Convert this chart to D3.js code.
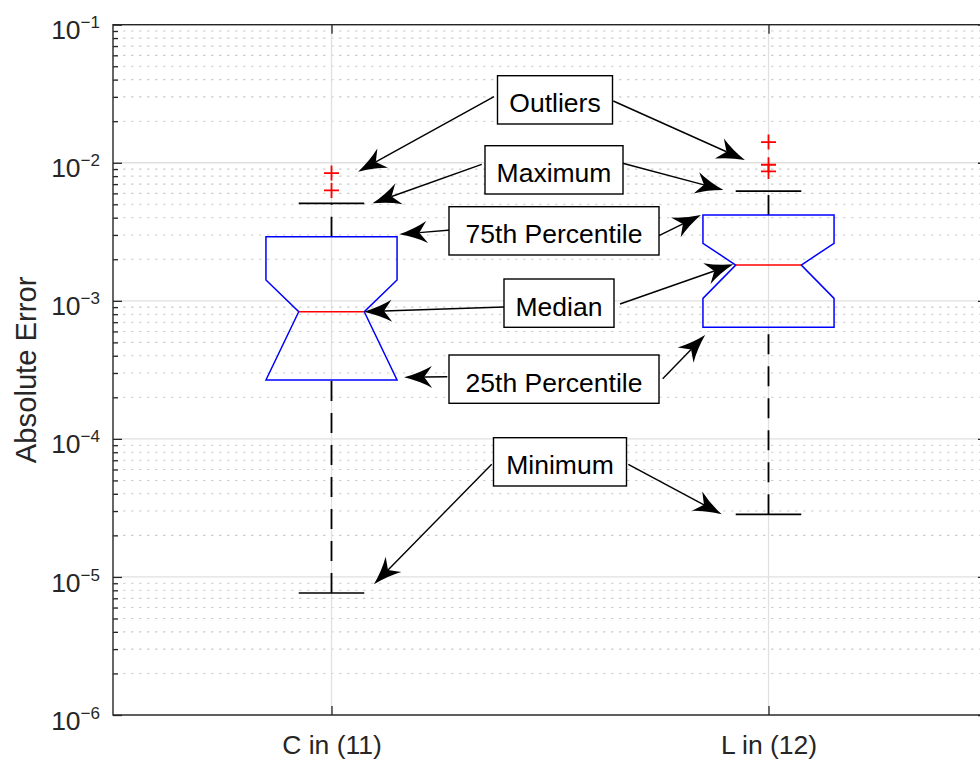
<!DOCTYPE html>
<html>
<head>
<meta charset="utf-8">
<script src="https://cdn.jsdelivr.net/npm/d3@7"></script>
<style>
  html, body { margin: 0; padding: 0; background: #ffffff; }
  svg { display: block; font-family: "Liberation Sans", Arial, Helvetica, sans-serif; }
</style>
</head>
<body>
<script>
// ---- data: notched box plot statistics per group ----
const categories  = ["C in (11)", "L in (12)"];
const q1          = [2.67e-4, 6.43e-4];
const median      = [8.34e-4, 1.817e-3];
const q3          = [2.913e-3, 4.18e-3];
const notchLow    = [2.67e-4, 1.042e-3];
const notchHigh   = [1.416e-3, 2.61e-3];
const whiskerLow  = [7.65e-6, 2.84e-5];
const whiskerHigh = [5.085e-3, 6.24e-3];
const outliers    = [[8.42e-3, 6.30e-3], [1.413e-2, 9.67e-3, 8.65e-3]];
const yTickExponents = [-6, -5, -4, -3, -2, -1];
const yLabel = "Absolute Error";

// ---- callouts: label, arrow tips in data units (group position, value) ----
const noteLabels = ["Outliers", "Maximum", "75th Percentile", "Median", "25th Percentile", "Minimum"];
const noteTips = [
  [[1.061, 8.61e-3], [1.946, 1.047e-2]],
  [[1.094, 5.085e-3], [1.897, 6.35e-3]],
  [[1.155, 3.03e-3], [1.8455, 4.18e-3]],
  [[1.074, 8.34e-4], [1.9195, 1.838e-3]],
  [[1.166, 2.79e-4], [1.855, 5.655e-4]],
  [[1.097, 8.84e-6], [1.893, 2.84e-5]]
];
// callout box layout (pixels): centre x, top y, width; and arrow tails
const noteBoxes = [
  {cx: 555, y: 75.7, w: 115},
  {cx: 554, y: 145.7, w: 138},
  {cx: 554, y: 206.7, w: 210},
  {cx: 559, y: 279, w: 110},
  {cx: 554, y: 355, w: 210},
  {cx: 560, y: 437.7, w: 133}
];
const noteTails = [
  [[494, 96.7], [613.3, 101]],
  [[481.7, 164.3], [622.7, 163.3]],
  [[450.7, 230], [659, 235.7]],
  [[504, 307], [620, 304]],
  [[447.3, 376.7], [662.7, 378.7]],
  [[491.7, 464.3], [628.3, 464.3]]
];

// ---- layout ----
const W = 980, H = 760;
const plot = {left: 113, top: 24.7, right: 987, bottom: 715};
const axisColor = "#262626";

const svg = d3.select("body").append("svg")
  .attr("width", W).attr("height", H);

const x = d3.scaleLinear().domain([0.5, 2.5]).range([plot.left, plot.right]);
const y = d3.scaleLog().domain([1e-6, 1e-1]).range([plot.bottom, plot.top]);

const majorVals = yTickExponents.map(e => Math.pow(10, e));
const minorVals = [];
yTickExponents.slice(0, -1).forEach(e => {
  for (let k = 2; k <= 9; k++) minorVals.push(k * Math.pow(10, e));
});

// ---- grid ----
const grid = svg.append("g");
grid.selectAll("line.minor").data(minorVals).join("line")
  .attr("x1", plot.left).attr("x2", plot.right)
  .attr("y1", d => y(d)).attr("y2", d => y(d))
  .attr("stroke", "#cdcdcd").attr("stroke-width", 1.1)
  .attr("stroke-dasharray", "2.5,5.5").attr("stroke-dashoffset", -2);
grid.selectAll("line.major").data(majorVals).join("line")
  .attr("x1", plot.left).attr("x2", plot.right)
  .attr("y1", d => y(d)).attr("y2", d => y(d))
  .attr("stroke", "#e0e0e0").attr("stroke-width", 1.3);
grid.selectAll("line.vmajor").data(categories).join("line")
  .attr("x1", (d, i) => x(i + 1)).attr("x2", (d, i) => x(i + 1))
  .attr("y1", plot.top).attr("y2", plot.bottom)
  .attr("stroke", "#e0e0e0").attr("stroke-width", 1.3);

// ---- boxes ----
const boxHalf = 0.15, notchHalf = 0.075, capHalf = 0.075;
const data = svg.append("g");
categories.forEach((c, i) => {
  const p = i + 1;
  const xl = x(p - boxHalf), xr = x(p + boxHalf);
  const nl = x(p - notchHalf), nr = x(p + notchHalf);
  const yNlo = Math.min(y(notchLow[i]), y(q1[i]));
  const yNhi = Math.max(y(notchHigh[i]), y(q3[i]));

  // whiskers (dashed, drawn bottom to top)
  data.append("line")
    .attr("x1", x(p)).attr("x2", x(p))
    .attr("y1", y(whiskerLow[i])).attr("y2", y(q1[i]))
    .attr("stroke", "#000").attr("stroke-width", 1.8)
    .attr("stroke-dasharray", "20,12");
  data.append("line")
    .attr("x1", x(p)).attr("x2", x(p))
    .attr("y1", y(q3[i])).attr("y2", y(whiskerHigh[i]))
    .attr("stroke", "#000").attr("stroke-width", 1.8)
    .attr("stroke-dasharray", "20,12");
  // caps
  [whiskerLow[i], whiskerHigh[i]].forEach(v => {
    data.append("line")
      .attr("x1", x(p - capHalf)).attr("x2", x(p + capHalf))
      .attr("y1", y(v)).attr("y2", y(v))
      .attr("stroke", "#000").attr("stroke-width", 1.7);
  });

  // notched box outline
  const pts = [
    [xl, y(q1[i])], [xl, yNlo], [nl, y(median[i])], [xl, yNhi], [xl, y(q3[i])],
    [xr, y(q3[i])], [xr, yNhi], [nr, y(median[i])], [xr, yNlo], [xr, y(q1[i])]
  ];
  data.append("path")
    .attr("d", d3.line()(pts) + "Z")
    .attr("fill", "none").attr("stroke", "#0000ff").attr("stroke-width", 1.5)
    .attr("stroke-linejoin", "miter");
  // median
  data.append("line")
    .attr("x1", nl).attr("x2", nr)
    .attr("y1", y(median[i])).attr("y2", y(median[i]))
    .attr("stroke", "#ff0000").attr("stroke-width", 1.5);
  // outliers
  outliers[i].forEach(v => {
    const cx = x(p), cy = y(v), s = 7.5;
    data.append("path")
      .attr("d", `M${cx - s},${cy}H${cx + s}M${cx},${cy - s}V${cy + s}`)
      .attr("stroke", "#ff0000").attr("stroke-width", 1.8).attr("fill", "none");
  });
});

// ---- axes ----
const axes = svg.append("g").attr("color", axisColor);
axes.append("g").attr("transform", `translate(${plot.left},0)`)
  .call(d3.axisLeft(y).tickValues(minorVals).tickSize(-5).tickFormat(""))
  .call(g => g.select(".domain").remove());
axes.append("g").attr("transform", `translate(${plot.left},0)`)
  .call(d3.axisLeft(y).tickValues(majorVals).tickSize(-9).tickFormat(""))
  .call(g => g.select(".domain").remove());
axes.append("g").attr("transform", `translate(${plot.right},0)`)
  .call(d3.axisRight(y).tickValues(minorVals).tickSize(-5).tickFormat(""))
  .call(g => g.select(".domain").remove());
axes.append("g").attr("transform", `translate(${plot.right},0)`)
  .call(d3.axisRight(y).tickValues(majorVals).tickSize(-9).tickFormat(""))
  .call(g => g.select(".domain").remove());
axes.append("g").attr("transform", `translate(0,${plot.top})`)
  .call(d3.axisTop(x).tickValues([1, 2]).tickSize(-9).tickFormat(""))
  .call(g => g.select(".domain").remove());
const xAxis = axes.append("g").attr("transform", `translate(0,${plot.bottom})`)
  .call(d3.axisBottom(x).tickValues([1, 2]).tickSize(-9).tickPadding(20)
    .tickFormat(d => categories[d - 1]))
  .call(g => g.select(".domain").remove());
xAxis.selectAll("text")
  .attr("font-size", 26.5).attr("fill", axisColor)
  .attr("font-family", "Liberation Sans, Arial, sans-serif");
axes.selectAll(".tick line").attr("stroke-width", 1.3);

// frame
axes.append("rect")
  .attr("x", plot.left).attr("y", plot.top)
  .attr("width", plot.right - plot.left).attr("height", plot.bottom - plot.top)
  .attr("fill", "none").attr("stroke", axisColor).attr("stroke-width", 1.4);

// y tick labels: 10 with superscript exponent
const yLabels = axes.append("g");
yTickExponents.forEach(e => {
  const t = yLabels.append("text")
    .attr("x", plot.left - 13).attr("y", y(Math.pow(10, e)) + 14.6)
    .attr("text-anchor", "end").attr("fill", axisColor);
  t.append("tspan").attr("font-size", 26.5).text("10");
  t.append("tspan").attr("font-size", 17).attr("dy", -11)
    .text(String(e).replace("-", "\u2212"));
});

// y axis title
svg.append("text")
  .attr("transform", `translate(36,${(plot.top + plot.bottom) / 2}) rotate(-90)`)
  .attr("text-anchor", "middle").attr("font-size", 29.2).attr("fill", axisColor)
  .text(yLabel);

// ---- callouts ----
const notes = svg.append("g");
const headLen = 28, headWid = 22, notch = 0.72;
function arrow(tail, tip) {
  const ang = Math.atan2(tip[1] - tail[1], tip[0] - tail[0]);
  const ca = Math.cos(ang), sa = Math.sin(ang);
  const toWorld = (u, v) => [tip[0] + u * ca - v * sa, tip[1] + u * sa + v * ca];
  const back = toWorld(-notch * headLen, 0);
  notes.append("line")
    .attr("x1", tail[0]).attr("y1", tail[1]).attr("x2", back[0]).attr("y2", back[1])
    .attr("stroke", "#000").attr("stroke-width", 1.4);
  // swept-back head with slightly concave flanks
  const t = toWorld(0, 0), b1 = toWorld(-headLen, headWid / 2), b2 = toWorld(-headLen, -headWid / 2);
  const c1 = toWorld(-0.55 * headLen, 0.18 * headWid), c2 = toWorld(-0.55 * headLen, -0.18 * headWid);
  notes.append("path")
    .attr("d", `M${t}Q${c1} ${b1}L${back}L${b2}Q${c2} ${t}Z`)
    .attr("fill", "#000");
}
noteLabels.forEach((label, i) => {
  noteTips[i].forEach((tp, j) => {
    arrow(noteTails[i][j], [x(tp[0]), y(tp[1])]);
  });
  const b = noteBoxes[i];
  notes.append("rect")
    .attr("x", b.cx - b.w / 2).attr("y", b.y).attr("width", b.w).attr("height", 48.3)
    .attr("fill", "#fff").attr("stroke", "#000").attr("stroke-width", 1.4);
  notes.append("text")
    .attr("x", b.cx).attr("y", b.y + 36.5).attr("text-anchor", "middle")
    .attr("font-size", 26.5).attr("fill", "#000").text(label);
});
</script>
</body>
</html>
